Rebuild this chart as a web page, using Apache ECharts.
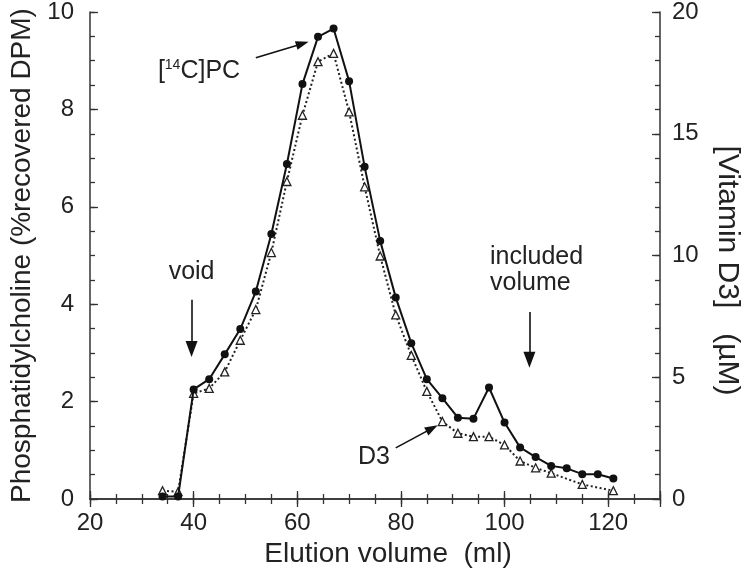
<!DOCTYPE html>
<html>
<head>
<meta charset="utf-8">
<script src="https://cdn.jsdelivr.net/npm/echarts@6/dist/echarts.min.js"></script>
<style>
html,body{margin:0;padding:0;background:#fff;}
#c{width:745px;height:576px;}
</style>
</head>
<body>
<div id="c"></div>
<script>
// Elution volume (ml) for the [14C]PC fractions
var pcVolume = [34, 37, 40, 43, 46, 49, 52, 55, 58, 61, 64, 67, 70, 73, 76, 79, 82, 85, 88, 91, 94, 97, 100, 103, 106, 109, 112, 115, 118, 121];
// Phosphatidylcholine (% recovered DPM)
var pcValues = [0.05, 0.05, 2.25, 2.46, 2.97, 3.49, 4.26, 5.44, 6.88, 8.52, 9.49, 9.66, 8.58, 6.82, 5.30, 4.14, 3.20, 2.46, 2.07, 1.67, 1.65, 2.29, 1.57, 1.06, 0.86, 0.68, 0.63, 0.51, 0.51, 0.42];
// Elution volume (ml) for the vitamin D3 fractions
var d3Volume = [34, 37, 40, 43, 46, 49, 52, 55, 58, 61, 64, 67, 70, 73, 76, 79, 82, 85, 88, 91, 94, 97, 100, 103, 106, 109, 115, 121];
// [Vitamin D3] (uM)
var d3Values = [0.34, 0.30, 4.34, 4.54, 5.22, 6.52, 7.78, 10.12, 13.04, 15.76, 17.96, 18.30, 15.90, 12.82, 9.98, 7.56, 5.90, 4.42, 3.18, 2.70, 2.56, 2.56, 2.22, 1.56, 1.28, 1.06, 0.60, 0.34];
// axis tick labels
var xTicks = [20, 40, 60, 80, 100, 120];
var yLeftTicks = [0, 2, 4, 6, 8, 10];
var yRightTicks = [0, 5, 10, 15, 20];

var FONT = '"Liberation Sans", Arial, Helvetica, sans-serif';
var TXT = '#222';
var AX = '#333';

function pairs(xs, ys) { return xs.map(function (x, i) { return [x, ys[i]]; }); }

var chart = echarts.init(document.getElementById('c'), null, {renderer: 'canvas'});

function majorAxis(extra) {
  return Object.assign({
    type: 'value',
    axisLine: {show: true, lineStyle: {color: AX, width: 1.5}},
    axisTick: {show: true, inside: true, length: 8, lineStyle: {color: AX, width: 1.3}},
    splitLine: {show: false},
    axisLabel: {color: TXT, fontSize: 24, fontFamily: FONT},
    nameTextStyle: {color: TXT, fontSize: 28, fontFamily: FONT}
  }, extra);
}
function minorAxis(extra) {
  return Object.assign({
    type: 'value',
    axisLine: {show: false},
    axisTick: {show: true, inside: true, length: 5, lineStyle: {color: AX, width: 1.3}},
    splitLine: {show: false},
    axisLabel: {show: false}
  }, extra);
}

var xAxes = [
  majorAxis({position: 'bottom', min: xTicks[0], max: 130, interval: 20,
    name: 'Elution volume  (ml)', nameLocation: 'middle', nameGap: 40,
    axisLabel: {color: TXT, fontSize: 24, fontFamily: FONT, margin: 12,
      formatter: function (v) { return xTicks.indexOf(v) >= 0 ? String(v) : ''; }},
    nameTextStyle: {color: TXT, fontSize: 28, fontFamily: FONT, padding: [0, 0, 0, 26]}}),
  majorAxis({position: 'top', min: xTicks[0], max: 130, interval: 20, axisLabel: {show: false}}),
  minorAxis({position: 'bottom', min: xTicks[0], max: 130, interval: 5}),
  minorAxis({position: 'top', min: xTicks[0], max: 130, interval: 5})
];

var yAxes = [
  majorAxis({position: 'left', min: yLeftTicks[0], max: yLeftTicks[yLeftTicks.length - 1], interval: 2,
    name: 'Phosphatidylcholine (%recovered DPM)', nameLocation: 'middle', nameGap: 50, nameRotate: 90,
    axisLabel: {color: TXT, fontSize: 24, fontFamily: FONT, margin: 16}}),
  majorAxis({position: 'right', min: yRightTicks[0], max: yRightTicks[yRightTicks.length - 1], interval: 5,
    name: '[Vitamin D3]   (\u00B5M)', nameLocation: 'middle', nameGap: 52, nameRotate: -90,
    axisLabel: {color: TXT, fontSize: 24, fontFamily: FONT, margin: 12},
    nameTextStyle: {color: TXT, fontSize: 30, fontFamily: FONT, padding: [0, 0, 0, 30]}}),
  minorAxis({position: 'left', min: 0, max: 10, interval: 0.5}),
  minorAxis({position: 'right', min: 0, max: 20, interval: 1})
];

chart.setOption({
  animation: false,
  backgroundColor: '#fff',
  textStyle: {fontFamily: FONT},
  grid: {left: 90, right: 85, top: 12, bottom: 77, containLabel: false, outerBoundsMode: 'none'},
  xAxis: xAxes,
  yAxis: yAxes,
  series: [
    {
      name: 'D3', type: 'line', xAxisIndex: 0, yAxisIndex: 1,
      data: pairs(d3Volume, d3Values),
      symbol: 'triangle', symbolSize: 8,
      itemStyle: {color: '#fff', borderColor: '#222', borderWidth: 1.3},
      lineStyle: {color: '#222', width: 2, type: [2, 2.5]},
      z: 2
    },
    {
      name: '[14C]PC', type: 'line', xAxisIndex: 0, yAxisIndex: 0,
      data: pairs(pcVolume, pcValues),
      symbol: 'circle', symbolSize: 8,
      itemStyle: {color: '#111'},
      lineStyle: {color: '#111', width: 2},
      z: 3,
      markLine: {
        silent: true, animation: false,
        symbol: ['none', 'triangle'], symbolSize: [9, 13],
        label: {show: false},
        lineStyle: {color: '#111', width: 1.6, type: 'solid'},
        data: [
          [{coord: [52.0, 9.06]}, {coord: [61.0, 9.35]}],
          [{coord: [79.0, 1.05]}, {coord: [86.0, 1.45]}],
          [{coord: [39.6, 4.09]}, {coord: [39.6, 3.08], symbolSize: [12, 16]}],
          [{coord: [104.8, 3.84]}, {coord: [104.8, 2.86], symbolSize: [12, 16]}]
        ]
      }
    }
  ]
});

// text annotations placed from data coordinates
function px(x, y) { return chart.convertToPixel({xAxisIndex: 0, yAxisIndex: 0}, [x, y]); }
var annos = [
  {at: px(33.1, 8.78), text: '[{s|14}C]PC', align: 'left'},
  {at: px(39.6, 4.66), text: 'void', align: 'center'},
  {at: px(97.2, 4.97), text: 'included', align: 'left'},
  {at: px(97.2, 4.44), text: 'volume', align: 'left'},
  {at: px(71.7, 0.86), text: 'D3', align: 'left'}
];
chart.setOption({
  graphic: annos.map(function (a) {
    return {
      type: 'text', x: a.at[0], y: a.at[1], z: 10,
      style: {
        text: a.text, fill: TXT, font: '25px ' + FONT,
        align: a.align, verticalAlign: 'middle',
        rich: {s: {fontSize: 14, fontFamily: FONT, fill: TXT, verticalAlign: 'top', padding: [0, 0, 12, 0]}}
      }
    };
  })
});
</script>
</body>
</html>
